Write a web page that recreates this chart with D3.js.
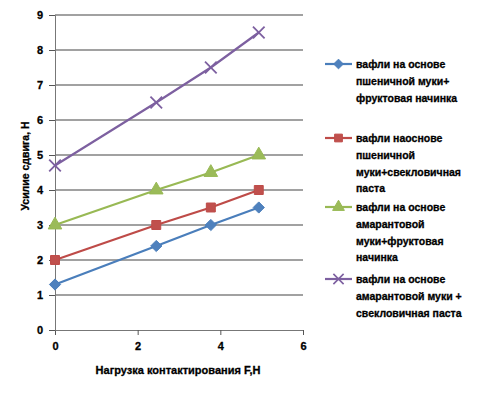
<!DOCTYPE html>
<html>
<head>
<meta charset="utf-8">
<script src="https://cdn.jsdelivr.net/npm/d3@7"></script>
<style>
  body { margin: 0; background: #fff; }
  text { font-family: "Liberation Sans", Arial, sans-serif; font-weight: bold; fill: #000; stroke: #000; stroke-width: 0.3px; }
</style>
</head>
<body>
<script>
// data
var loads = [0, 2.45, 3.77, 4.93]
var series_names = [
  ["вафли на основе", "пшеничной муки+", "фруктовая начинка"],
  ["вафли наоснове", "пшеничной", "муки+свекловичная", "паста"],
  ["вафли на основе", "амарантовой", "муки+фруктовая", "начинка"],
  ["вафли на основе", "амарантовой муки +", "свекловичная паста"]
]
var wheat_fruit = [1.3, 2.4, 3.0, 3.5]
var wheat_beet = [2.0, 3.0, 3.5, 4.0]
var amaranth_fruit = [3.0, 4.0, 4.5, 5.0]
var amaranth_beet = [4.7, 6.5, 7.5, 8.5]
var y_ticks = [0, 1, 2, 3, 4, 5, 6, 7, 8, 9]
var x_ticks = [0, 2, 4, 6]

var colors = ["#4A7EBB", "#BE4B48", "#98B954", "#7D60A0"]
var fills = ["#4F81BD", "#C0504D", "#9BBB59", "#8064A2"]
var symbols = [d3.symbolDiamond2, d3.symbolSquare, d3.symbolTriangle, d3.symbolX]
var values = [wheat_fruit, wheat_beet, amaranth_fruit, amaranth_beet]

var width = 483, height = 393
var margin = {top: 15, left: 55, right: 180, bottom: 63}

var svg = d3.select("body").append("svg")
  .attr("width", width)
  .attr("height", height)

var x = d3.scaleLinear().domain([0, 6]).range([margin.left, 303])
var y = d3.scaleLinear().domain([0, 9]).range([height - margin.bottom, margin.top])

// gridlines
svg.append("g")
  .selectAll("line")
  .data(y_ticks.slice(1))
  .enter().append("line")
  .attr("x1", x(0)).attr("x2", x(6))
  .attr("y1", function(d) { return y(d) }).attr("y2", function(d) { return y(d) })
  .attr("stroke", "#444").attr("stroke-width", 1.2)

// axes
svg.append("g")
  .attr("transform", "translate(0," + y(0) + ")")
  .call(d3.axisBottom(x).tickValues(x_ticks).tickFormat(d3.format("d")).tickSize(5).tickPadding(7))
svg.append("g")
  .attr("transform", "translate(" + x(0) + ",0)")
  .call(d3.axisLeft(y).tickValues(y_ticks).tickSize(6).tickPadding(6))

svg.selectAll(".domain").attr("stroke", "#777")
svg.selectAll(".tick line").attr("stroke", "#555")
svg.selectAll(".tick text").style("font-size", "11px").attr("font-family", null).attr("fill", "#000")

// axis titles
svg.append("text")
  .attr("x", 178).attr("y", 374)
  .attr("text-anchor", "middle")
  .style("font-size", "11px")
  .text("Нагрузка контактирования F,Н")

svg.append("text")
  .attr("transform", "translate(29,166) rotate(-90)")
  .attr("text-anchor", "middle")
  .style("font-size", "10.5px")
  .text("Усилие сдвига, Н")

// series
var line = d3.line()
  .x(function(d, i) { return x(loads[i]) })
  .y(function(d) { return y(d) })

values.forEach(function(vals, k) {
  svg.append("path")
    .datum(vals)
    .attr("d", line)
    .attr("fill", "none")
    .attr("stroke", colors[k])
    .attr("stroke-width", 2.2)

  svg.append("g").selectAll("path")
    .data(vals)
    .enter().append("path")
    .attr("transform", function(d, i) { return "translate(" + x(loads[i]) + "," + y(d) + ")" })
    .attr("d", d3.symbol().type(symbols[k]).size(k == 3 ? 90 : 80))
    .attr("fill", k == 3 ? "none" : fills[k])
    .attr("stroke", colors[k])
    .attr("stroke-width", k == 3 ? 1.8 : 1)
})

// legend
var legend_y = [64, 138, 207, 279]
values.forEach(function(vals, k) {
  var g = svg.append("g").attr("transform", "translate(0," + legend_y[k] + ")")
  g.append("line")
    .attr("x1", 325).attr("x2", 352)
    .attr("stroke", colors[k]).attr("stroke-width", 2.2)
  g.append("path")
    .attr("transform", "translate(338.5,0)")
    .attr("d", d3.symbol().type(symbols[k]).size(k == 3 ? 70 : 60))
    .attr("fill", k == 3 ? "none" : fills[k])
    .attr("stroke", colors[k])
    .attr("stroke-width", k == 3 ? 1.6 : 1)
  g.selectAll("text")
    .data(series_names[k])
    .enter().append("text")
    .attr("x", 356)
    .attr("y", function(d, i) { return i * 16.8 + 4 })
    .style("font-size", "10.5px")
    .text(function(d) { return d })
})
</script>
</body>
</html>
